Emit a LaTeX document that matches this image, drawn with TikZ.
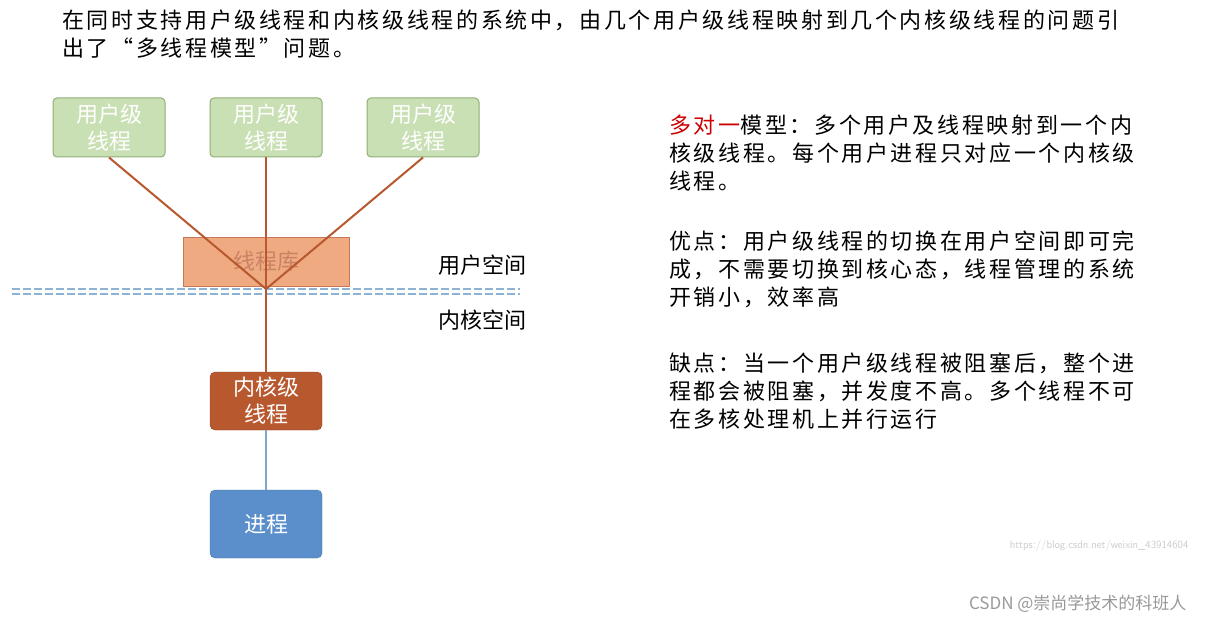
\documentclass[tikz,border=0pt]{standalone}
\usepackage{fontspec}
\newfontfamily\cjk{Noto Sans CJK SC}
\newfontfamily\cjkr[LetterSpace=12]{Noto Sans CJK SC}
\definecolor{lnc}{HTML}{B8582E}
\definecolor{ubf}{HTML}{C9DFB4}
\definecolor{ubd}{HTML}{8FAE78}
\definecolor{dsh}{HTML}{8CB3D6}
\definecolor{libf}{HTML}{F0AA82}
\definecolor{prf}{HTML}{5A8FCB}
\begin{document}
\begin{tikzpicture}[x=1pt,y=-1pt,font=\cjk,
  ub/.style={draw=ubd,fill=ubf,rounded corners=4pt,minimum width=112pt,minimum height=59pt,text=white,align=center,font=\cjk\fontsize{22}{27}\selectfont,line width=1pt},
  bx/.style={rounded corners=5pt,minimum width=112pt,align=center,text=white,font=\cjk\fontsize{22}{27}\selectfont},
  ln/.style={draw=lnc,line width=2pt},
  tx/.style={anchor=west,font=\cjkr\fontsize{22}{28}\selectfont,inner sep=0pt}]
\useasboundingbox (0,0) rectangle (1205,623);
\fill[white] (0,0) rectangle (1205,623);
\node[tx,anchor=north west,align=left] (top) at (62,10) {在同时支持用户级线程和内核级线程的系统中，由几个用户级线程映射到几个内核级线程的问题引\\出了“多线程模型”问题。};
\node[ub] (u1) at (109,127.5) {用户级\\线程};
\node[ub] (u2) at (266,127.5) {用户级\\线程};
\node[ub] (u3) at (423,127.5) {用户级\\线程};
\node[draw=lnc!80,fill=libf,minimum width=166pt,minimum height=49pt,text=lnc!75,font=\cjk\fontsize{22}{26}\selectfont,line width=1pt] (lib) at (266,261.5) {线程库};
\foreach \yy in {289,294}{\draw[dash pattern=on 8pt off 3pt,draw=dsh,line width=2pt] (12,\yy) -- (520,\yy);}
\coordinate (hub) at (266,289);
\node[bx,fill=lnc,draw=lnc!80!black,minimum height=58pt] (k) at (266,401) {内核级\\线程};
\node[bx,fill=prf,draw=prf!80!black,minimum height=68pt] (p) at (266,524) {进程};
\draw[ln] (u1.south) -- (hub);
\draw[ln] (u3.south) -- (hub);
\draw[ln] (u2.south) -- (k.north);
\draw[draw=prf!80,line width=1.5pt] (k.south) -- (p.north);
\node[tx,font=\cjk\fontsize{22}{28}\selectfont] (us) at (438,265) {用户空间};
\node[tx,font=\cjk\fontsize{22}{28}\selectfont] (ks) at (438,320) {内核空间};
\node[tx,anchor=north west,align=left] (r1) at (669,115) {{\color{red!80!black}多对一}模型：多个用户及线程映射到一个内\\核级线程。每个用户进程只对应一个内核级\\线程。};
\node[tx,anchor=north west,align=left] (r2) at (669,231) {优点：用户级线程的切换在用户空间即可完\\成，不需要切换到核心态，线程管理的系统\\开销小，效率高};
\node[tx,anchor=north west,align=left] (r3) at (669,353) {缺点：当一个用户级线程被阻塞后，整个进\\程都会被阻塞，并发度不高。多个线程不可\\在多核处理机上并行运行};
\node[font=\sffamily\fontsize{11}{12}\selectfont,text=gray!40,anchor=east] (wm) at (1192,546) {https://blog.csdn.net/weixin\_43914604};
\node[font=\cjk\fontsize{17}{18}\selectfont,text=gray!80,anchor=east] (cs) at (1190,604) {CSDN @崇尚学技术的科班人};
\end{tikzpicture}
\end{document}
